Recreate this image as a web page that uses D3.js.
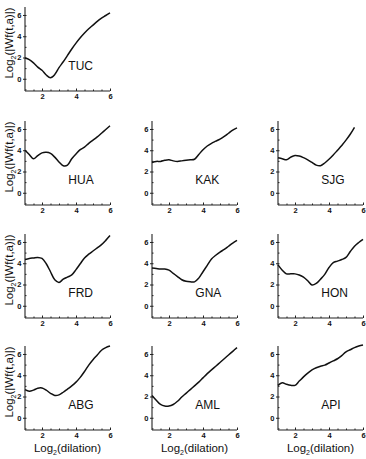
<!DOCTYPE html>
<html>
<head>
<meta charset="utf-8">
<script src="https://cdn.jsdelivr.net/npm/d3@7"></script>
<style>
  body { margin: 0; background: #fff; }
  svg { display: block; }
  text { font-family: 'Liberation Sans', Arial, sans-serif; fill: #111; }
</style>
</head>
<body>
<div id="chart"></div>
<script>
// log2(dilation) sample points shared by every station
const dilation = [1, 1.25, 1.5, 1.75, 2, 2.25, 2.5, 2.75, 3, 3.25, 3.5, 3.75, 4, 4.25, 4.5, 4.75, 5, 5.25, 5.5, 5.75, 6]

const stations = ['TUC', 'HUA', 'KAK', 'SJG', 'FRD', 'GNA', 'HON', 'ABG', 'AML', 'API']

// log2(|Wf(t,a)|)
const TUC = [1.95, 1.8, 1.5, 1.1, 0.8, 0.35, 0.1, 0.4, 1.05, 1.6, 2.2, 2.8, 3.35, 3.85, 4.3, 4.7, 5.05, 5.4, 5.7, 5.95, 6.2]
const HUA = [4.0, 3.6, 3.2, 3.5, 3.75, 3.8, 3.7, 3.35, 2.9, 2.55, 2.6, 3.2, 3.65, 4.05, 4.3, 4.65, 4.95, 5.25, 5.6, 5.95, 6.3]
const KAK = [2.85, 2.95, 2.95, 3.05, 3.1, 3.0, 2.95, 3.0, 3.05, 3.1, 3.15, 3.6, 4.05, 4.4, 4.65, 4.85, 5.05, 5.3, 5.6, 5.9, 6.1]
const SJG = [3.3, 3.2, 3.1, 3.35, 3.5, 3.45, 3.3, 3.1, 2.85, 2.6, 2.55, 2.8, 3.15, 3.55, 4.0, 4.45, 4.95, 5.5, 6.15, null, null]
const FRD = [4.35, 4.45, 4.5, 4.55, 4.45, 3.95, 3.2, 2.45, 2.2, 2.5, 2.7, 2.9, 3.4, 3.95, 4.5, 4.85, 5.15, 5.45, 5.75, 6.15, 6.6]
const GNA = [3.55, 3.5, 3.45, 3.45, 3.35, 3.05, 2.75, 2.45, 2.3, 2.25, 2.25, 2.6, 3.2, 3.8, 4.4, 4.75, 5.05, 5.3, 5.6, 5.9, 6.15]
const HON = [3.85, 3.35, 3.0, 3.0, 3.0, 2.9, 2.7, 2.35, 1.95, 2.1, 2.5, 2.95, 3.6, 4.05, 4.2, 4.35, 4.55, 5.1, 5.6, 5.95, 6.25]
const ABG = [2.65, 2.5, 2.6, 2.78, 2.8, 2.6, 2.3, 2.1, 2.15, 2.4, 2.7, 3.0, 3.35, 3.8, 4.35, 4.95, 5.45, 5.9, 6.35, 6.6, 6.75]
const AML = [2.1, 1.65, 1.25, 1.1, 1.1, 1.25, 1.55, 1.95, 2.3, 2.65, 3.0, 3.35, 3.75, 4.15, 4.5, 4.85, 5.2, 5.55, 5.9, 6.25, 6.6]
const API = [3.05, 3.3, 3.15, 3.05, 3.05, 3.45, 3.85, 4.2, 4.5, 4.7, 4.85, 4.95, 5.15, 5.35, 5.55, 5.85, 6.2, 6.4, 6.6, 6.75, 6.85]

const series = { TUC, HUA, KAK, SJG, FRD, GNA, HON, ABG, AML, API }

const yTicks = [0, 2, 4, 6]
const xTicks = [2, 4, 6]

const WIDTH = 366
const HEIGHT = 459
const PANEL_W = 85
const PANEL_H = 84
const COL_LEFT = [25, 152, 278]
const ROW_TOP = [7, 121, 234, 346]

const svg = d3
  .select('#chart')
  .append('svg')
  .attr('width', WIDTH)
  .attr('height', HEIGHT)

const line = (x, y) =>
  d3
    .line()
    .defined(d => d[1] !== null)
    .x(d => x(d[0]))
    .y(d => y(d[1]))
    .curve(d3.curveCatmullRom.alpha(0.5))

const fmt = d3.format('d')

stations.forEach((name, i) => {
  const row = i === 0 ? 0 : 1 + Math.floor((i - 1) / 3)
  const col = i === 0 ? 0 : (i - 1) % 3
  const left = COL_LEFT[col]
  const top = ROW_TOP[row]

  const x = d3.scaleLinear().domain([1, 6]).range([left, left + PANEL_W])
  const y = d3.scaleLinear().domain([-1.15, 6.75]).range([top + PANEL_H, top])

  const g = svg.append('g')

  // y axis with small inward minor ticks
  g.append('g')
    .attr('transform', `translate(${left},0)`)
    .call(d3.axisLeft(y).tickValues(d3.range(-1, 7, 1)).tickSize(-1.5).tickFormat(''))
    .call(g => g.select('.domain').remove())
  g.append('g')
    .attr('transform', `translate(${left},0)`)
    .call(d3.axisLeft(y).tickValues(yTicks).tickSize(2).tickPadding(1.5).tickFormat(fmt))
    .call(g => g.select('.domain').attr('d', `M0,${y.range()[0]}V${y.range()[1]}`))
    .call(g => g.selectAll('text').style('font-size', '7.5px').style('font-weight', 'bold'))

  // x axis
  g.append('g')
    .attr('transform', `translate(0,${top + PANEL_H})`)
    .call(d3.axisBottom(x).tickValues(d3.range(1.5, 6, 0.5)).tickSize(-1.5).tickFormat(''))
    .call(g => g.select('.domain').remove())
  g.append('g')
    .attr('transform', `translate(0,${top + PANEL_H})`)
    .call(d3.axisBottom(x).tickValues(xTicks).tickSize(-2.5).tickPadding(3).tickFormat(fmt))
    .call(g => g.select('.domain').attr('d', `M${x.range()[0]},0H${x.range()[1]}`))
    .call(g => g.selectAll('text').style('font-size', '7.5px').style('font-weight', 'bold'))

  g.selectAll('.domain').attr('stroke', '#222').attr('stroke-width', 1.1)
  g.selectAll('.tick line').attr('stroke', '#222')

  const pts = dilation.map((d, j) => [d, series[name][j]])
  g.append('path')
    .datum(pts)
    .attr('fill', 'none')
    .attr('stroke', '#111')
    .attr('stroke-width', 1.5)
    .attr('d', line(x, y))

  // station name
  g.append('text')
    .attr('x', x(3.55))
    .attr('y', y(0.8))
    .style('font-size', '12px')
    .text(name)

  // y label on the first column
  if (col === 0) {
    const t = g
      .append('text')
      .attr('transform', `translate(12.5,${top + 36}) rotate(-90)`)
      .attr('text-anchor', 'middle')
      .style('font-size', '11.5px')
    t.append('tspan').text('Log')
    t.append('tspan').attr('dy', 3).style('font-size', '7px').text('2')
    t.append('tspan').attr('dy', -3).text('(|Wf(t,a)|)')
  }

  // x label on the bottom row
  if (row === 3) {
    const t = g
      .append('text')
      .attr('x', left + PANEL_W / 2)
      .attr('y', 452)
      .attr('text-anchor', 'middle')
      .style('font-size', '11.5px')
    t.append('tspan').text('Log')
    t.append('tspan').attr('dy', 3).style('font-size', '7px').text('2')
    t.append('tspan').attr('dy', -3).text('(dilation)')
  }
})
</script>
</body>
</html>
